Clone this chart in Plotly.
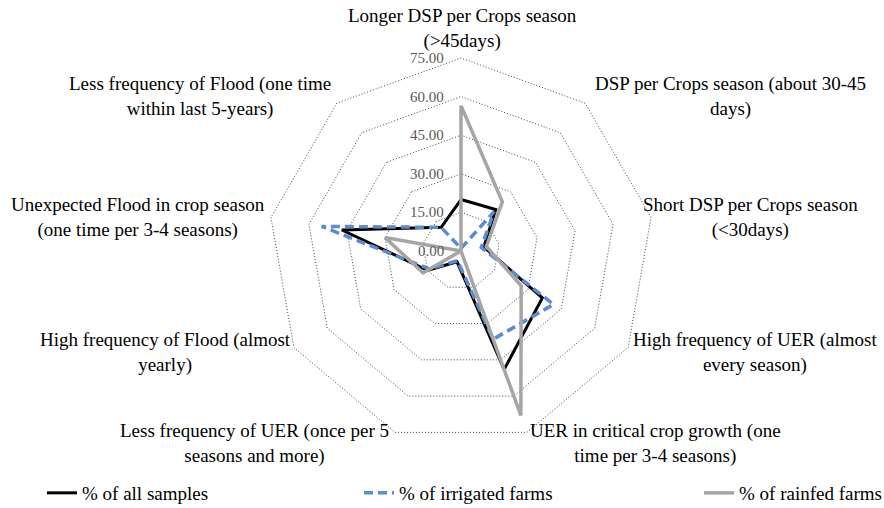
import plotly.graph_objects as go

categories = [
    "Longer DSP per Crops season<br>(>45days)",
    "DSP per Crops season (about 30-45<br>days)",
    "Short DSP per Crops season<br>(<30days)",
    "High frequency of UER (almost<br>every season)",
    "UER in critical crop growth (one<br>time per 3-4 seasons)",
    "Less frequency of UER (once per 5<br>seasons and more)",
    "High frequency of Flood (almost<br>yearly)",
    "Unexpected Flood in crop season<br>(one time per 3-4 seasons)",
    "Less frequency of Flood (one time<br>within last 5-years)",
]
all_samples = [20.0, 21.0, 9.0, 36.5, 49.0, 4.5, 15.0, 47.0, 12.0]
irrigated = [1.0, 20.0, 8.0, 41.5, 36.5, 4.0, 14.0, 55.0, 12.0]
rainfed = [56.5, 25.0, 10.0, 27.0, 68.0, 0.0, 17.0, 30.0, 0.0]
radial_ticks = [0, 15, 30, 45, 60, 75]
series_names = ["% of all samples", "% of irrigated farms", "% of rainfed farms"]

FONT = "Liberation Serif"

def closed(v):
    return list(v) + [v[0]]

fig = go.Figure()
styles = [
    dict(color="#000000", width=3, dash="solid"),
    dict(color="#5B8BD2", width=3.5, dash="9px,5px"),
    dict(color="#A5A5A5", width=3.5, dash="solid"),
]
legend_ids = ["legend", "legend2", "legend3"]
for name, vals, st, lg in zip(series_names, [all_samples, irrigated, rainfed], styles, legend_ids):
    fig.add_trace(go.Scatterpolar(
        r=closed(vals), theta=closed(categories), mode="lines",
        name=name, line=st, hoverinfo="skip", legend=lg,
    ))

W, H = 884, 508
cx, cy = 461, 251
RMAX = 75.8
PX75 = 193
R = PX75 * RMAX / 75  # pixel radius of the full radial range
fig.update_layout(
    width=W, height=H,
    margin=dict(l=0, r=0, t=0, b=0, autoexpand=False),
    paper_bgcolor="white", plot_bgcolor="white",
    font=dict(family=FONT, size=19, color="#000000"),
    polar=dict(
        domain=dict(x=[(cx - R) / W, (cx + R) / W], y=[(H - cy - R) / H, (H - cy + R) / H]),
        bgcolor="white",
        gridshape="linear",
        angularaxis=dict(
            type="category", rotation=90, direction="clockwise",
            showticklabels=False, showgrid=False, showline=False, ticks="",
        ),
        radialaxis=dict(
            range=[0, RMAX], tickvals=radial_ticks,
            angle=90, showline=False, ticks="", showticklabels=False,
            gridcolor="#444444", griddash="1px,2px", gridwidth=1,
        ),
    ),
    showlegend=True,
)

legend_x = [42, 359, 699]
for lg, x in zip(legend_ids, legend_x):
    fig.update_layout({lg: dict(
        orientation="h", x=x / W, y=1 - 493 / H, xanchor="left", yanchor="middle",
        font=dict(family=FONT, size=19, color="#000000"), bgcolor="rgba(0,0,0,0)",
    )})

# radial tick labels, left of the vertical axis
for v in radial_ticks:
    fig.add_annotation(
        text=f"{v:.2f}", x=446 / W, y=1 - (cy - PX75 * v / 75) / H,
        xref="paper", yref="paper", showarrow=False,
        xanchor="right", yanchor="middle",
        font=dict(family=FONT, size=15, color="#595959"),
    )

# category labels (positions in px)
label_pos = [
    (462, 28), (730, 96), (750, 217), (755, 352), (655, 443),
    (255, 443), (165, 352), (138, 217), (200, 96),
]
for text, (x, y) in zip(categories, label_pos):
    fig.add_annotation(
        text=text, x=x / W, y=1 - y / H, xref="paper", yref="paper",
        showarrow=False, xanchor="center", yanchor="middle",
        font=dict(family=FONT, size=19, color="#000000"), align="center",
    )

fig.write_html(
    "out.html",
    config={"displayModeBar": False},
    post_script="document.body.style.margin='0px';document.body.style.padding='0px';",
)
